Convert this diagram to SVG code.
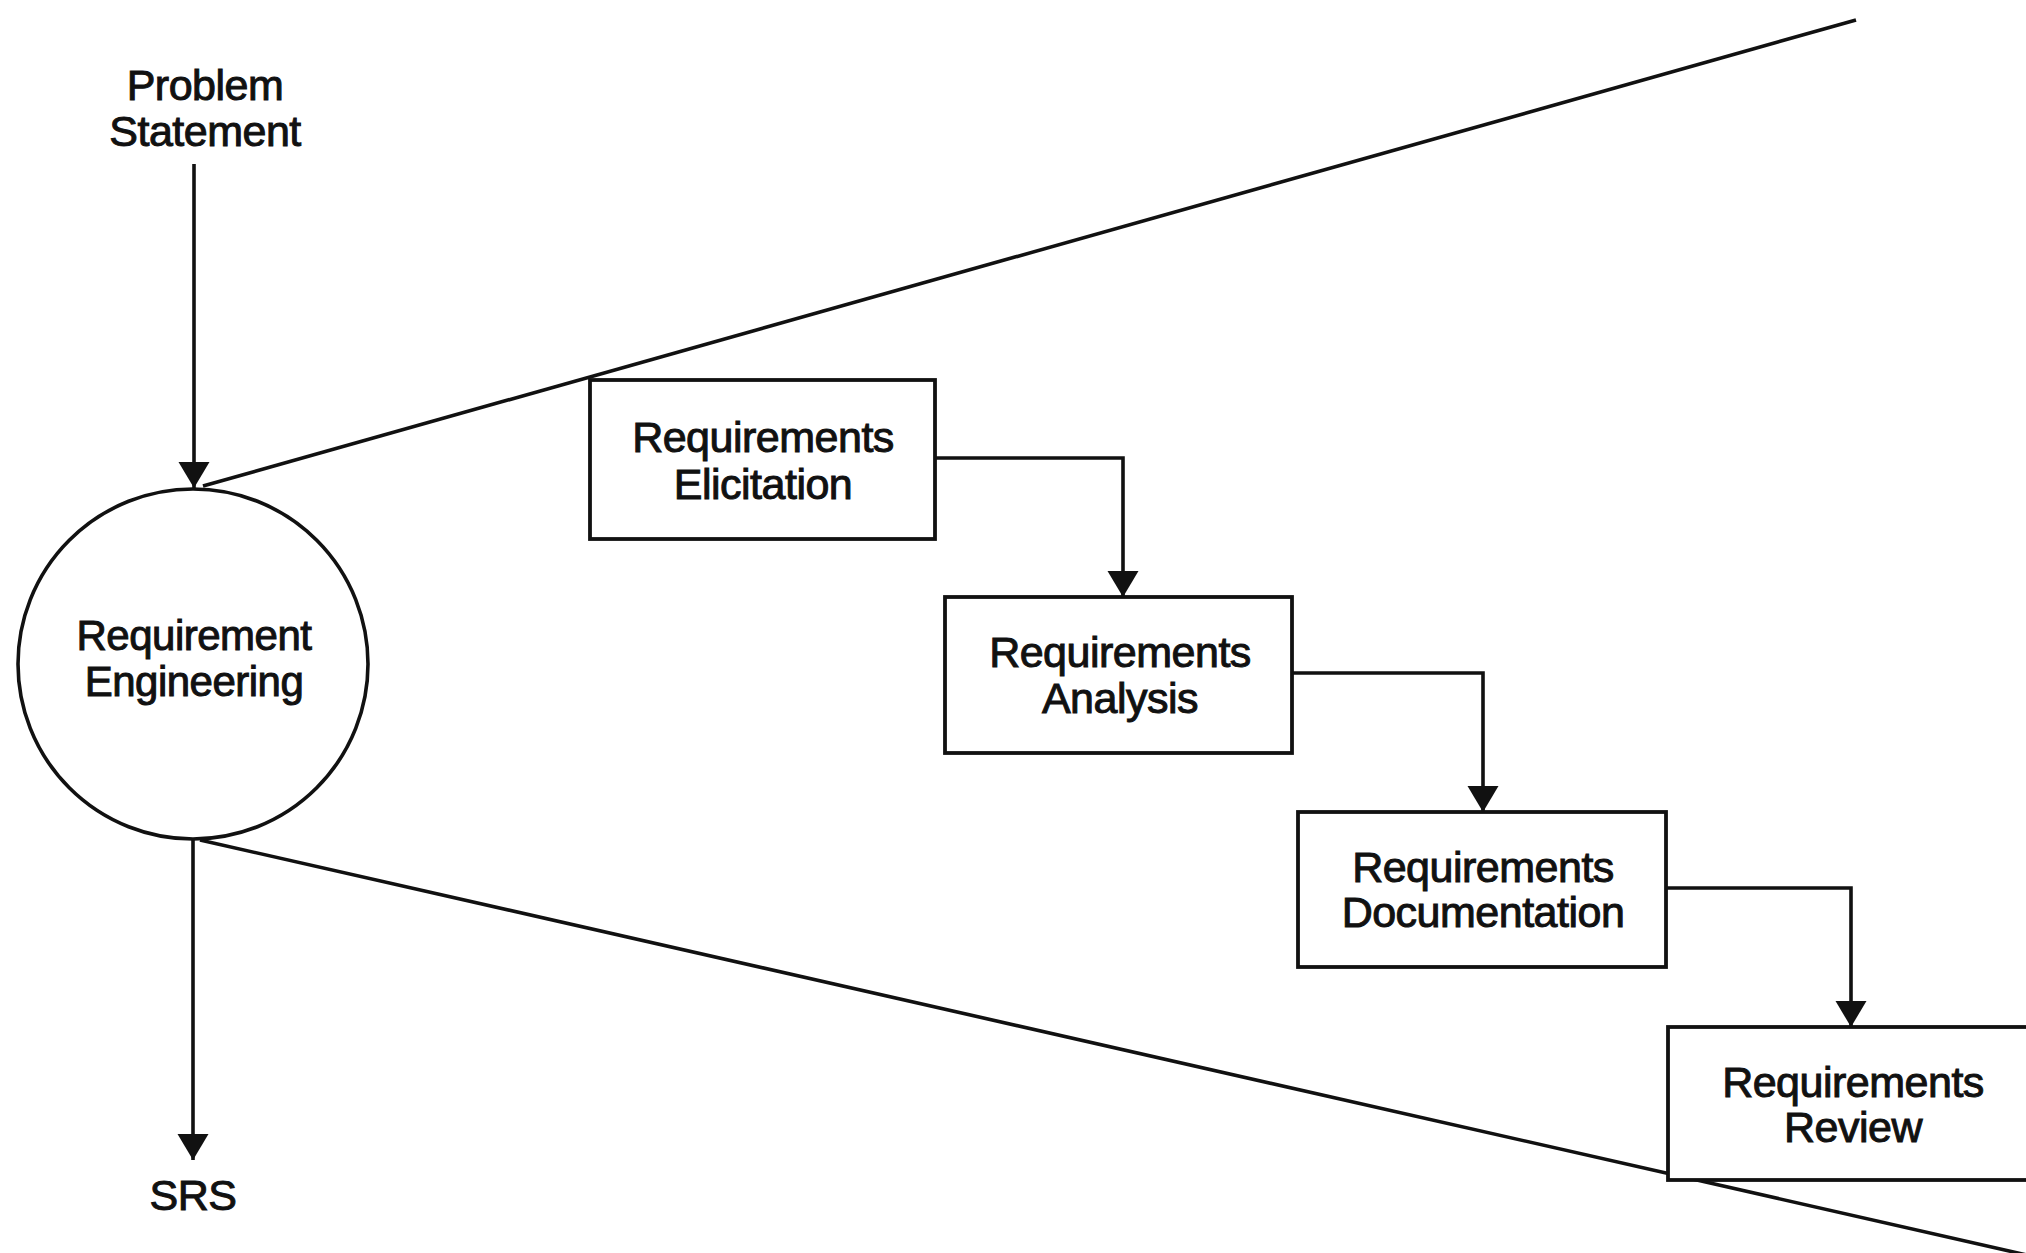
<svg xmlns="http://www.w3.org/2000/svg" width="2026" height="1253" viewBox="0 0 2026 1253">
  <style>
    .bg { fill: #ffffff; }
    .box { fill: #ffffff; stroke: #111111; stroke-width: 3.8; }
    .circ { fill: #ffffff; stroke: #111111; stroke-width: 3.6; }
    .line { fill: none; stroke: #111111; stroke-width: 3.6; }
    .lbl { font-family: "Liberation Sans", Arial, Helvetica, sans-serif; font-size: 43px; fill: #111111; stroke: #111111; stroke-width: 1; text-anchor: middle; letter-spacing: -0.5px; }
    .sm { font-size: 42px; }
  </style>
  <defs>
    <marker id="arrow" markerUnits="userSpaceOnUse" markerWidth="28" markerHeight="32" refX="26" refY="15.5" orient="auto" viewBox="0 0 28 32">
      <path d="M0,0 L26,15.5 L0,31 z" fill="#111111"/>
    </marker>
  </defs>
  <rect class="bg" x="0" y="0" width="2026" height="1253"/>

  <g id="connectors">
    <line id="cone-upper" class="line" x1="203" y1="486" x2="1856" y2="20"/>
    <line id="cone-lower" class="line" x1="200" y1="840" x2="2040" y2="1258"/>
    <line id="in-problem" class="line" x1="194" y1="164" x2="194" y2="488" marker-end="url(#arrow)"/>
    <line id="out-srs" class="line" x1="193" y1="840" x2="193" y2="1160" marker-end="url(#arrow)"/>
    <polyline id="c1" class="line" points="935,458 1123,458 1123,597" marker-end="url(#arrow)"/>
    <polyline id="c2" class="line" points="1292,673 1483,673 1483,812" marker-end="url(#arrow)"/>
    <polyline id="c3" class="line" points="1666,888 1851,888 1851,1027" marker-end="url(#arrow)"/>
  </g>

  <g id="problem-statement">
    <text class="lbl" x="205" y="100">Problem</text>
    <text class="lbl" x="205" y="146">Statement</text>
  </g>

  <g id="requirement-engineering">
    <circle class="circ" cx="193" cy="664" r="175"/>
    <text class="lbl sm" x="194" y="650">Requirement</text>
    <text class="lbl sm" x="194" y="696">Engineering</text>
  </g>

  <g id="srs">
    <text class="lbl" x="193" y="1210">SRS</text>
  </g>

  <g id="elicitation">
    <rect class="box" x="590" y="380" width="345" height="159"/>
    <text class="lbl" x="763" y="452">Requirements</text>
    <text class="lbl" x="763" y="499">Elicitation</text>
  </g>

  <g id="analysis">
    <rect class="box" x="945" y="597" width="347" height="156"/>
    <text class="lbl" x="1120" y="667">Requirements</text>
    <text class="lbl" x="1120" y="713">Analysis</text>
  </g>

  <g id="documentation">
    <rect class="box" x="1298" y="812" width="368" height="155"/>
    <text class="lbl" x="1483" y="882">Requirements</text>
    <text class="lbl" x="1483" y="927">Documentation</text>
  </g>

  <g id="review">
    <rect class="box" x="1668" y="1027" width="400" height="153"/>
    <text class="lbl" x="1853" y="1097">Requirements</text>
    <text class="lbl" x="1853" y="1142">Review</text>
  </g>
</svg>
